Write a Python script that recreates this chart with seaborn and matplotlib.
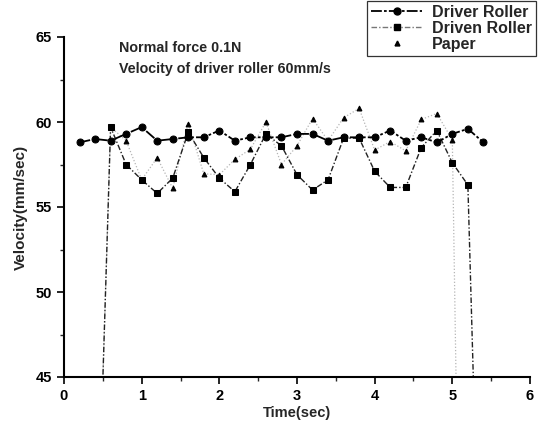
import numpy as np
import pandas as pd
import matplotlib
matplotlib.use("Agg")
import matplotlib.pyplot as plt
from matplotlib.lines import Line2D
import seaborn as sns

# ---- data ----
driver_t = [0.2, 0.4, 0.6, 0.8, 1.0, 1.2, 1.4, 1.6, 1.8, 2.0, 2.2, 2.4, 2.6, 2.8,
            3.0, 3.2, 3.4, 3.6, 3.8, 4.0, 4.2, 4.4, 4.6, 4.8, 5.0, 5.2, 5.4]
driver_v = [58.8, 59.0, 58.9, 59.3, 59.7, 58.9, 59.0, 59.1, 59.1, 59.5, 58.9, 59.1, 59.1, 59.1,
            59.3, 59.3, 58.9, 59.1, 59.1, 59.1, 59.5, 58.9, 59.1, 58.8, 59.3, 59.6, 58.8]

driven_t = [0.4, 0.6, 0.8, 1.0, 1.2, 1.4, 1.6, 1.8, 2.0, 2.2, 2.4, 2.6, 2.8,
            3.0, 3.2, 3.4, 3.6, 3.8, 4.0, 4.2, 4.4, 4.6, 4.8, 5.0, 5.2, 5.4]
driven_v = [30.0, 59.7, 57.5, 56.6, 55.8, 56.7, 59.4, 57.9, 56.7, 55.9, 57.5, 59.3, 58.6,
            56.9, 56.0, 56.6, 59.05, 59.05, 57.1, 56.15, 56.15, 58.5, 59.5, 57.6, 56.3, 24.0]

paper_t = [0.4, 0.6, 0.8, 1.0, 1.2, 1.4, 1.6, 1.8, 2.0, 2.2, 2.4, 2.6, 2.8,
           3.0, 3.2, 3.4, 3.6, 3.8, 4.0, 4.2, 4.4, 4.6, 4.8, 5.0, 5.2]
paper_v = [30.0, 59.7, 58.9, 56.6, 57.9, 56.1, 59.9, 56.95, 56.9, 57.8, 58.4, 60.0, 57.5,
           58.6, 60.2, 58.9, 60.25, 60.8, 58.35, 58.85, 58.3, 60.15, 60.5, 58.95, 0.0]

series_names = ["Driver Roller", "Driven Roller", "Paper"]
x_ticks = [0, 1, 2, 3, 4, 5, 6]
y_ticks = [45, 50, 55, 60, 65]
annotation_lines = ["Normal force 0.1N", "Velocity of driver roller 60mm/s"]

# ---- figure ----
sns.set_theme(style="white")
plt.rcParams['font.family'] = ['Liberation Sans', 'DejaVu Sans']
plt.rcParams['font.weight'] = 'bold'

fig = plt.figure(figsize=(5.39, 4.29), dpi=100)
ax = fig.add_axes([64/539, 1-377/429, (530-64)/539, (377-37)/429])

df_driver = pd.DataFrame({"t": driver_t, "v": driver_v})
df_driven = pd.DataFrame({"t": driven_t, "v": driven_v})
df_paper = pd.DataFrame({"t": paper_t, "v": paper_v})

paper_style = dict(color="#b5b5b5", linestyle=(0, (1, 1.6)), linewidth=0.9,
                   marker="^", markersize=3.5, markerfacecolor="black", markeredgecolor="black")
driven_style = dict(color="#222222", linestyle=(0, (4, 1.5, 1, 1.5)), linewidth=1.0,
                    marker="s", markersize=4.5, markerfacecolor="black", markeredgecolor="black")
driver_style = dict(color="black", linestyle=(0, (6, 1.2, 1.5, 1.2)), linewidth=1.3,
                    marker="o", markersize=5, markerfacecolor="black", markeredgecolor="black")

sns.lineplot(data=df_paper, x="t", y="v", ax=ax, sort=False, legend=False, **paper_style)
sns.lineplot(data=df_driven, x="t", y="v", ax=ax, sort=False, legend=False, **driven_style)
sns.lineplot(data=df_driver, x="t", y="v", ax=ax, sort=False, legend=False, **driver_style)

ax.set_xlim(0, 6)
ax.set_ylim(45, 65)
ax.set_xticks(x_ticks)
ax.set_yticks(y_ticks)
ax.set_xticks(np.arange(0.5, 6, 1.0), minor=True)
ax.set_yticks(np.arange(47.5, 65, 5.0), minor=True)
ax.tick_params(axis="both", which="major", direction="out", length=5, width=1.2,
               labelsize=10.5, colors="black", bottom=True, left=True)
ax.tick_params(axis="both", which="minor", direction="out", length=3, width=1.0,
               bottom=True, left=True)
for lab in ax.get_xticklabels() + ax.get_yticklabels():
    lab.set_fontweight("bold")

ax.set_xlabel("Time(sec)", fontsize=10.5, fontweight="bold", labelpad=2)
ax.set_ylabel("Velocity(mm/sec)", fontsize=11, fontweight="bold", labelpad=6)

sns.despine(ax=ax, top=True, right=True)
for s in ["left", "bottom"]:
    ax.spines[s].set_color("black")
    ax.spines[s].set_linewidth(1.5)
ax.grid(False)

ax.text(0.71, 64.35, annotation_lines[0], fontsize=10.3, fontweight="bold", va="center", ha="left")
ax.text(0.71, 63.1, annotation_lines[1], fontsize=10.3, fontweight="bold", va="center", ha="left")

handles = [
    Line2D([], [], **driver_style),
    Line2D([], [], **{**driven_style, "color": "#777777"}),
    Line2D([], [], **{**paper_style, "linestyle": "none"}),
]
leg = fig.legend(handles, series_names,
                 loc="upper right", bbox_to_anchor=(536/539, 1-1/429),
                 prop={"weight": "bold", "size": 11.5}, frameon=True, fancybox=False,
                 edgecolor="black", handlelength=3.2, handletextpad=0.6,
                 borderpad=0.25, labelspacing=0.05, borderaxespad=0.0)
leg.get_frame().set_linewidth(0.9)

fig.savefig("out.png", dpi=100, facecolor="white")
